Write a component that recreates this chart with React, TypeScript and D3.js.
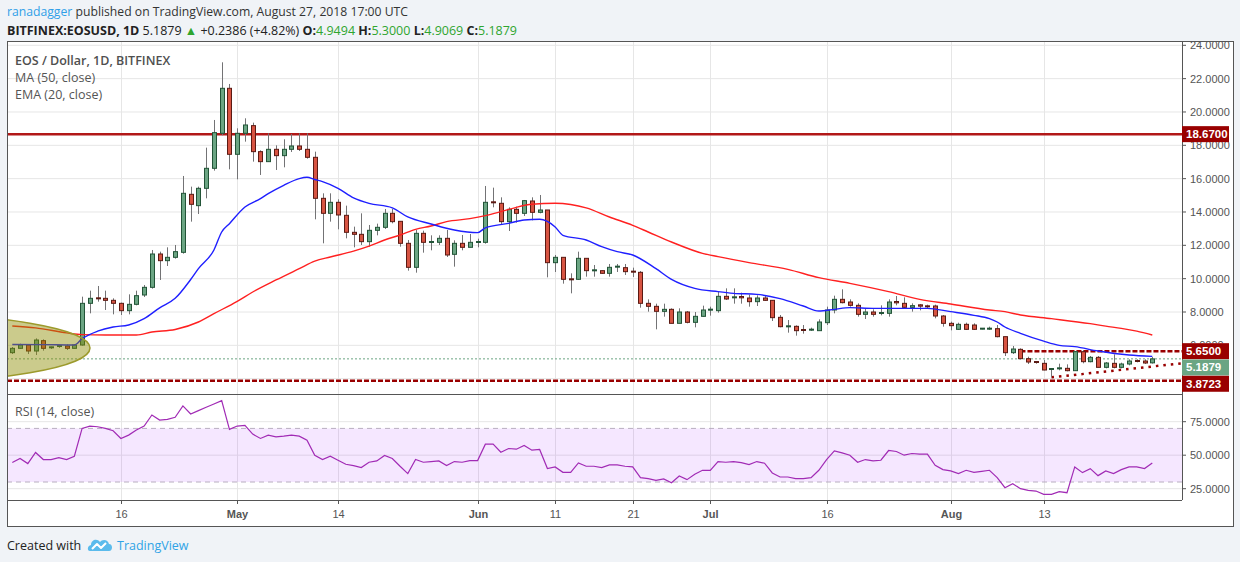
import React from "react";
import * as d3 from "d3";

// ---------------- data ----------------
const START_DATE = "2018-04-02";

const opens = [
  5.56, 5.82, 6.02, 5.66, 6.28, 5.82, 5.9, 5.96, 5.82, 6.02,
  8.52, 8.82, 8.82, 8.7, 8.52, 8.08, 8.46, 9.02, 9.48, 11.48,
  11.08, 11.28, 11.58, 15.06, 14.38, 15.42, 16.62, 18.72, 21.42, 17.46,
  18.72, 19.18, 17.62, 17.02, 17.76, 17.38, 17.76, 17.96, 17.76, 17.28,
  14.82, 13.92, 14.58, 13.8, 12.78, 12.66, 12.22, 12.9, 13.08, 13.92,
  13.44, 12.12, 10.68, 12.72, 12.18, 12.18, 12.42, 11.46, 12.12, 11.88,
  12.18, 12.18, 14.58, 14.52, 13.42, 14.16, 13.92, 14.66, 13.98, 14.12,
  10.96, 11.28, 9.96, 9.96, 11.22, 10.48, 10.48, 10.32, 10.7, 10.66,
  10.42, 10.38, 8.52, 8.34, 8.04, 8.16, 7.32, 8.0, 7.38, 7.74,
  8.12, 8.08, 8.94, 8.84, 8.9, 8.84, 8.62, 8.84, 8.7, 7.68,
  7.12, 7.14, 6.92, 6.9, 6.88, 7.36, 8.12, 8.76, 8.6, 8.4,
  7.86, 8.0, 7.9, 7.92, 8.6, 8.52, 8.28, 8.4, 8.34, 8.36,
  7.76, 7.32, 6.96, 7.26, 7.22, 6.98, 6.98, 7.0, 6.52, 5.56,
  5.76, 5.2, 5.0, 4.92, 4.54, 4.58, 4.62, 4.48, 5.62, 5.02,
  5.28, 4.68, 4.92, 4.68, 4.88, 5.06, 5.06, 4.9494,
];

const highs = [
  5.9, 6.1, 6.08, 6.42, 6.36, 5.92, 6.0, 6.06, 6.06, 8.92,
  9.28, 9.56, 9.28, 8.82, 8.56, 9.06, 9.28, 9.62, 11.72, 11.62,
  11.88, 12.02, 16.16, 15.52, 15.52, 17.86, 19.52, 22.98, 21.68, 19.02,
  19.62, 19.36, 17.7, 18.72, 18.0, 18.36, 18.68, 18.72, 18.72, 17.62,
  15.12, 15.12, 14.76, 14.38, 13.12, 13.92, 13.22, 13.3, 14.18, 14.18,
  13.44, 12.32, 12.92, 12.88, 12.6, 12.6, 12.92, 12.3, 12.62, 12.68,
  12.4, 15.56, 15.46, 14.88, 14.28, 14.32, 14.72, 14.88, 15.02, 14.12,
  11.42, 11.28, 10.32, 11.62, 11.22, 10.82, 10.5, 10.88, 10.88, 10.88,
  10.66, 10.46, 8.76, 8.5, 8.5, 8.22, 8.22, 8.06, 8.0, 8.38,
  8.32, 9.22, 9.42, 9.42, 9.16, 9.04, 9.0, 9.0, 8.7, 7.82,
  7.52, 7.2, 7.22, 7.06, 7.56, 8.32, 8.98, 9.36, 8.76, 8.52,
  8.22, 8.16, 8.4, 8.76, 8.96, 8.88, 8.52, 8.48, 8.44, 8.44,
  7.82, 7.42, 7.36, 7.36, 7.32, 7.04, 7.12, 7.22, 6.52, 5.96,
  5.82, 5.32, 5.06, 5.12, 4.62, 4.9, 4.86, 5.66, 5.72, 5.36,
  5.36, 5.0, 5.46, 4.96, 5.16, 5.16, 5.16, 5.3,
];

const lows = [
  5.48, 5.78, 5.48, 5.42, 5.68, 5.78, 5.85, 5.72, 5.8, 5.98,
  7.92, 8.62, 8.12, 7.86, 7.82, 7.86, 8.4, 8.9, 9.4, 9.92,
  10.76, 11.2, 11.5, 13.42, 13.88, 14.82, 16.48, 18.6, 16.56, 15.96,
  18.22, 17.02, 16.22, 17.0, 16.52, 16.68, 17.6, 17.66, 17.2, 13.56,
  12.12, 13.42, 12.96, 12.42, 11.88, 12.02, 11.92, 12.6, 12.98, 13.32,
  11.92, 10.48, 10.36, 11.56, 11.7, 12.02, 11.3, 10.72, 11.7, 11.88,
  11.88, 12.1, 14.28, 13.26, 12.86, 13.36, 13.76, 13.5, 13.92, 10.08,
  10.4, 9.7, 9.12, 9.92, 10.12, 10.12, 10.3, 10.12, 10.4, 10.22,
  10.1, 8.26, 8.02, 6.96, 7.72, 7.32, 7.32, 7.32, 7.08, 7.72,
  7.78, 7.96, 8.72, 8.5, 8.5, 8.32, 8.36, 8.66, 7.46, 7.08,
  6.76, 6.58, 6.7, 6.86, 6.88, 7.22, 7.92, 8.52, 8.32, 7.72,
  7.58, 7.72, 7.8, 7.72, 8.4, 8.24, 8.02, 8.1, 8.22, 7.62,
  7.12, 6.9, 6.92, 6.92, 6.92, 6.96, 6.92, 6.48, 5.36, 5.48,
  5.16, 4.88, 4.9, 4.5, 4.08, 4.5, 4.44, 4.48, 4.92, 4.98,
  4.68, 4.62, 4.62, 4.62, 4.8, 4.98, 4.88, 4.9069,
];

const closes = [
  5.82, 6.02, 5.66, 6.32, 5.82, 5.88, 5.96, 5.82, 6.02, 8.52,
  8.82, 8.8, 8.7, 8.52, 8.08, 8.46, 8.98, 9.48, 11.48, 11.08,
  11.28, 11.62, 15.12, 14.46, 15.42, 16.62, 18.76, 21.42, 17.46, 18.72,
  19.22, 17.62, 17.02, 17.76, 17.38, 17.76, 17.96, 17.76, 17.28, 14.82,
  13.92, 14.58, 13.82, 12.78, 12.66, 12.22, 12.9, 13.08, 13.92, 13.42,
  12.12, 10.68, 12.72, 12.18, 12.2, 12.42, 11.42, 12.12, 11.88, 12.18,
  12.2, 14.58, 14.56, 13.42, 14.16, 13.92, 14.68, 13.98, 14.12, 10.96,
  11.28, 9.96, 9.94, 11.22, 10.48, 10.5, 10.32, 10.68, 10.72, 10.42,
  10.4, 8.52, 8.34, 8.04, 8.16, 7.32, 8.0, 7.38, 7.74, 8.12,
  8.14, 8.94, 8.78, 8.88, 8.82, 8.62, 8.84, 8.7, 7.66, 7.12,
  7.14, 6.88, 6.9, 6.94, 7.4, 8.12, 8.76, 8.56, 8.4, 7.86,
  8.0, 7.86, 7.94, 8.6, 8.52, 8.28, 8.38, 8.32, 8.33, 7.76,
  7.32, 7.18, 7.26, 6.96, 6.96, 7.0, 7.0, 6.52, 5.56, 5.78,
  5.2, 5.0, 4.94, 4.52, 4.58, 4.62, 4.48, 5.62, 5.02, 5.28,
  4.68, 4.94, 4.68, 4.88, 5.06, 5.02, 4.94, 5.1879,
];

const rsiValues = [
  44.5, 47.5, 43.75, 52, 46.75, 46.75, 48.25, 46.75, 49.25, 70,
  71.75, 71.25, 70, 68.25, 62.5, 65, 68.75, 71.75, 80, 76.25,
  76.75, 78.25, 86.75, 80.75, 83.25, 85.75, 88.25, 90.75, 69.25, 71.75,
  72.25, 65.75, 62.5, 65, 63.75, 64.25, 65, 64.25, 61.25, 50,
  46.75, 49.25, 46.25, 43.25, 42.25, 40.75, 44.75, 45.75, 49.75, 47.5,
  41.75, 36.25, 46.75, 44.75, 45.25, 45.75, 42.25, 45.25, 44.75, 46,
  46, 58.25, 58.25, 52.25, 55, 54.5, 57.25, 53.75, 54.25, 40,
  41.25, 37.25, 37.25, 44.25, 41.75, 41.75, 40.75, 42.75, 42.75, 41.75,
  41.25, 33.25, 32.5, 31.25, 32.25, 29.5, 34.5, 31.75, 35.75, 38.75,
  38.75, 45.25, 44.75, 45.25, 44.5, 43, 45.25, 44, 36.75, 33.75,
  33.75, 32.5, 32.5, 33.25, 38.75, 46.75, 53.25, 51.75, 50, 44.75,
  46.75, 45.75, 46.25, 53.5, 52.75, 50, 51.25, 50.75, 50.75, 42.5,
  39.25, 38.25, 36.25, 38.75, 37.25, 38, 38.75, 33.25, 25.75, 28.75,
  25, 23.75, 23.25, 20.75, 20.75, 22.75, 22, 41.25, 37, 40,
  34.75, 38.25, 36.25, 39.25, 41.25, 41.25, 40, 44.25,
];

// [bar index, value] read along the blue EMA (20) line
const ema20Points: [number, number][] = [
  [0, 6.05], [4, 6.04], [8, 6.02], [9, 6.4], [11, 6.85], [13, 7.1], [15, 7.22],
  [17, 7.6], [19, 8.25], [21, 8.82], [23, 9.95], [24, 10.6], [26, 11.72],
  [27, 12.8], [28, 13.3], [30, 14.3], [32, 14.8], [33, 15.1], [35, 15.6],
  [37, 16.0], [38, 16.08], [39, 15.95], [40, 15.82], [42, 15.42], [44, 14.85],
  [46, 14.52], [49, 14.25], [51, 13.7], [54, 13.28], [57, 12.92], [60, 12.76],
  [61, 13.05], [64, 13.32], [66, 13.52], [68, 13.56], [70, 13.1], [71, 12.6],
  [74, 12.32], [76, 11.92], [78, 11.62], [80, 11.42], [83, 10.6], [85, 9.96],
  [88, 9.42], [91, 9.22], [93, 9.12], [96, 9.06], [99, 8.8], [102, 8.36],
  [104, 8.06], [106, 8.16], [108, 8.26], [111, 8.22], [115, 8.22], [118, 8.22],
  [121, 8.02], [124, 7.8], [126, 7.6], [127, 7.4], [128, 7.1], [130, 6.72],
  [133, 6.25], [135, 6.0], [137, 5.92], [140, 5.66], [144, 5.42], [147, 5.34],
];

// [bar index, value] read along the red MA (50) line
const ma50Points: [number, number][] = [
  [0, 7.16], [3, 7.05], [7, 6.75], [9, 6.64], [12, 6.62], [16, 6.62], [18, 6.8],
  [21, 6.95], [24, 7.4], [26, 7.9], [29, 8.64], [31, 9.2], [34, 9.92], [37, 10.6],
  [39, 11.05], [41, 11.3], [44, 11.65], [46, 11.95], [48, 12.32], [50, 12.62],
  [52, 12.96], [54, 13.16], [56, 13.42], [59, 13.6], [61, 13.78], [63, 14.02],
  [65, 14.28], [67, 14.46], [70, 14.52], [72, 14.45], [74, 14.25], [77, 13.7],
  [80, 13.2], [82, 12.8], [85, 12.2], [89, 11.52], [91, 11.32], [95, 10.96],
  [100, 10.56], [104, 10.06], [108, 9.72], [113, 9.22], [117, 8.76], [121, 8.48],
  [126, 8.12], [128, 8.02], [130, 7.82], [134, 7.6], [139, 7.3], [141, 7.15],
  [143, 7.02], [145, 6.85], [147, 6.62],
];

const priceGridTicks = [4, 6, 8, 10, 12, 14, 16, 18, 20, 22, 24];
const priceLabelTicks = [6, 8, 10, 12, 14, 16, 18, 20, 22, 24];
const rsiTicks = [25, 50, 75];
const timeTickDates = ["2018-04-16", "2018-05-01", "2018-05-14", "2018-06-01", "2018-06-11", "2018-06-21", "2018-07-01", "2018-07-16", "2018-08-01", "2018-08-13"];
const timeTickLabels = ["16", "May", "14", "Jun", "11", "21", "Jul", "16", "Aug", "13"];

const resistanceLevel = 18.67;
const rangeTopLevel = 5.65;
const supportLevel = 3.8723;
const lastPrice = 5.1879;
const trendStart: [string, number] = ["2018-08-14", 4.08];
const trendEnd: [string, number] = ["2018-09-01", 4.98];

// ---------------- layout ----------------
const W = 1240;
const H = 562;
const FL = 7;
const FR = 1234;
const FT = 41;
const FB = 527;
const PR = 1182;
const PB = 394;
const RB = 500;

const FONT = "'Open Sans', 'Noto Sans', sans-serif";
const AXF = "'Liberation Sans', Arial, sans-serif";

const UP = "#6ba583";
const DOWN = "#d75442";
const UP_B = "#225437";
const DOWN_B = "#5b1a13";
const DARKRED = "#990000";
const VALGREEN = "#2fa52f";

export default function App() {
  const start = new Date(START_DATE + "T00:00:00Z");
  const dates = opens.map((_, i) => d3.utcDay.offset(start, i));
  const x = d3.scaleUtc().domain([dates[0], dates[dates.length - 1]]).range([12.3, 1152.3]);
  const y = d3.scaleLinear().domain([8, 24]).range([312, 45.3]);
  const yR = d3.scaleLinear().domain([25, 75]).range([488.7, 421.7]);
  const d = (s: string) => new Date(s + "T00:00:00Z");

  const idxLine = d3
    .line<[number, number]>()
    .x((p) => x(dates[p[0]]))
    .y((p) => y(p[1]))
    .curve(d3.curveMonotoneX);

  const rsiLine = d3
    .line<number>()
    .x((_, i) => x(dates[i]))
    .y((v) => yR(v));

  const fmt = d3.format(".4f");
  const boxTop = y(rangeTopLevel) - 8;

  const labelBox = (cy: number, txt: string, fill: string, key: string) => (
    <g key={key}>
      <rect x={PR} y={cy - 8} width={47} height={16} fill={fill} />
      <text x={PR + 4} y={cy + 4} fontFamily={AXF} fontSize={11.5} fontWeight="bold" fill="#fff">
        {txt}
      </text>
    </g>
  );

  return (
    <div style={{ position: "absolute", left: 0, top: 0, width: W, height: H, overflow: "hidden" }}>
      <svg width={W} height={H} style={{ display: "block" }}>
        <defs>
          <clipPath id="pricePane">
            <rect x={FL} y={FT} width={PR - FL} height={PB - FT} />
          </clipPath>
          <clipPath id="rsiPane">
            <rect x={FL} y={PB} width={PR - FL} height={RB - PB} />
          </clipPath>
          <clipPath id="axisAboveBoxes">
            <rect x={PR} y={FT} width={FR - PR} height={boxTop - FT} />
          </clipPath>
        </defs>
        <rect x={0} y={0} width={W} height={H} fill="#f0f3f7" />

        {/* header */}
        <text x={7} y={16} fontFamily={FONT} fontSize={12.5} textLength={401} lengthAdjust="spacingAndGlyphs">
          <tspan fill="#2f9fe8">ranadagger</tspan>
          <tspan fill="#333"> published on TradingView.com, August 27, 2018 17:00 UTC</tspan>
        </text>
        <text x={7} y={35} fontFamily={FONT} fontSize={12.5} fill="#222" textLength={510} lengthAdjust="spacingAndGlyphs">
          <tspan fontWeight="bold">BITFINEX:EOSUSD, 1D</tspan>
          <tspan> 5.1879 </tspan>
          <tspan fill={VALGREEN}>▲</tspan>
          <tspan> +0.2386 (+4.82%) </tspan>
          <tspan fontWeight="bold">O:</tspan>
          <tspan fill={VALGREEN}>4.9494</tspan>
          <tspan fontWeight="bold"> H:</tspan>
          <tspan fill={VALGREEN}>5.3000</tspan>
          <tspan fontWeight="bold"> L:</tspan>
          <tspan fill={VALGREEN}>4.9069</tspan>
          <tspan fontWeight="bold"> C:</tspan>
          <tspan fill={VALGREEN}>5.1879</tspan>
        </text>

        {/* chart frame */}
        <rect x={FL} y={FT} width={FR - FL} height={FB - FT} fill="#fff" />

        {/* grid */}
        {priceGridTicks.map((t) => (
          <line key={"hg" + t} x1={FL} x2={PR} y1={y(t)} y2={y(t)} stroke="#e6e6e6" />
        ))}
        {rsiTicks.map((t) => (
          <line key={"rg" + t} x1={FL} x2={PR} y1={yR(t)} y2={yR(t)} stroke="#e6e6e6" />
        ))}
        {timeTickDates.map((s) => (
          <g key={"vg" + s}>
            <line x1={Math.round(x(d(s))) + 0.5} x2={Math.round(x(d(s))) + 0.5} y1={FT} y2={PB} stroke="#e6e6e6" />
            <line x1={Math.round(x(d(s))) + 0.5} x2={Math.round(x(d(s))) + 0.5} y1={PB} y2={RB} stroke="#e6e6e6" />
          </g>
        ))}

        {/* RSI band */}
        <rect x={FL} y={yR(70)} width={PR - FL} height={yR(30) - yR(70)} fill="rgba(153,21,255,0.1)" />
        <line x1={FL} x2={PR} y1={yR(70)} y2={yR(70)} stroke="#b8aec0" strokeDasharray="5 4" />
        <line x1={FL} x2={PR} y1={yR(30)} y2={yR(30)} stroke="#b8aec0" strokeDasharray="5 4" />
        <path d={rsiLine(rsiValues) || ""} fill="none" stroke="#a12bb5" strokeWidth={1.2} clipPath="url(#rsiPane)" />

        {/* price pane content */}
        <g clipPath="url(#pricePane)">
          <line x1={FL} x2={PR} y1={y(lastPrice)} y2={y(lastPrice)} stroke={UP} strokeDasharray="2 2" />
          <line x1={FL} x2={PR} y1={y(supportLevel)} y2={y(supportLevel)} stroke={DARKRED} strokeWidth={2.5} strokeDasharray="5 2" />
          <line
            x1={x(d("2018-08-10"))}
            x2={PR}
            y1={y(rangeTopLevel)}
            y2={y(rangeTopLevel)}
            stroke={DARKRED}
            strokeWidth={2.5}
            strokeDasharray="5 2"
          />
          <line
            x1={x(d(trendStart[0]))}
            x2={x(d(trendEnd[0]))}
            y1={y(trendStart[1])}
            y2={y(trendEnd[1])}
            stroke={DARKRED}
            strokeWidth={2.5}
            strokeDasharray="2.5 5"
          />
          <line x1={FL} x2={PR} y1={y(resistanceLevel)} y2={y(resistanceLevel)} stroke="#b21818" strokeWidth={2.5} />

          {opens.map((o, i) => {
            const c = closes[i];
            const up = c >= o;
            const cx = Math.round(x(dates[i])) + 0.5;
            const top = y(Math.max(o, c));
            const bot = y(Math.min(o, c));
            const h = Math.max(1, bot - top);
            return (
              <g key={"c" + i}>
                <line x1={cx} x2={cx} y1={y(highs[i])} y2={y(lows[i])} stroke="#737375" />
                <rect
                  x={cx - 2}
                  y={h < 1.5 ? top - 0.5 : top}
                  width={4}
                  height={h}
                  fill={up ? UP : DOWN}
                  stroke={up ? UP_B : DOWN_B}
                  strokeWidth={1}
                />
              </g>
            );
          })}

          <path d={idxLine(ma50Points) || ""} fill="none" stroke="#ff2020" strokeWidth={1.4} />
          <path d={idxLine(ema20Points) || ""} fill="none" stroke="#1f1fff" strokeWidth={1.4} />

          <ellipse cx={-115} cy={348} rx={205} ry={35} fill="rgba(140,140,0,0.45)" stroke="#9c9a2c" strokeWidth={1.5} />
        </g>

        {/* legends */}
        <text x={15} y={65} fontFamily={FONT} fontSize={12.5} fontWeight={600} fill="#4f4f4f">
          EOS / Dollar, 1D, BITFINEX
        </text>
        <text x={15} y={82} fontFamily={FONT} fontSize={12.5} fill="#555">
          MA (50, close)
        </text>
        <text x={15} y={99} fontFamily={FONT} fontSize={12.5} fill="#555">
          EMA (20, close)
        </text>
        <text x={15} y={416} fontFamily={FONT} fontSize={12.5} fill="#555">
          RSI (14, close)
        </text>

        {/* pane borders */}
        <line x1={FL} x2={PR} y1={PB + 0.5} y2={PB + 0.5} stroke="#555" />
        <line x1={FL} x2={PR} y1={RB + 0.5} y2={RB + 0.5} stroke="#555" />
        <line x1={PR + 0.5} x2={PR + 0.5} y1={FT} y2={RB} stroke="#555" />
        <rect x={FL + 0.5} y={FT + 0.5} width={FR - FL - 1} height={FB - FT - 1} fill="none" stroke="#555" />

        {/* price axis */}
        {priceLabelTicks.map((t) => (
          <g key={"pt" + t} clipPath={t === 6 ? "url(#axisAboveBoxes)" : undefined}>
            <line x1={PR} x2={PR + 4} y1={y(t)} y2={y(t)} stroke="#555" />
            <text x={1190} y={y(t) + 4} fontFamily={AXF} fontSize={11} fill="#555">
              {fmt(t)}
            </text>
          </g>
        ))}
        {rsiTicks.map((t) => (
          <g key={"rt" + t}>
            <line x1={PR} x2={PR + 4} y1={yR(t)} y2={yR(t)} stroke="#555" />
            <text x={1190} y={yR(t) + 4} fontFamily={AXF} fontSize={11} fill="#555">
              {fmt(t)}
            </text>
          </g>
        ))}
        {labelBox(y(resistanceLevel), fmt(resistanceLevel), DARKRED, "lb1")}
        {labelBox(y(rangeTopLevel), fmt(rangeTopLevel), DARKRED, "lb2")}
        {labelBox(y(rangeTopLevel) + 16.3, fmt(lastPrice), UP, "lb3")}
        {labelBox(y(rangeTopLevel) + 32.6, fmt(supportLevel), DARKRED, "lb4")}

        {/* time axis */}
        {timeTickDates.map((s, i) => {
          const tx = Math.round(x(d(s))) + 0.5;
          const isMonth = /[A-Za-z]/.test(timeTickLabels[i]);
          return (
            <g key={"tt" + s}>
              <line x1={tx} x2={tx} y1={RB} y2={RB + 4} stroke="#555" />
              <text
                x={tx}
                y={518}
                textAnchor="middle"
                fontFamily={AXF}
                fontSize={11}
                fontWeight={isMonth ? "bold" : "normal"}
                fill="#555"
              >
                {timeTickLabels[i]}
              </text>
            </g>
          );
        })}

        {/* footer */}
        <text x={7} y={550} fontFamily={FONT} fontSize={12.5} fill="#222">
          Created with
        </text>
        <g transform="translate(88,537)">
          <path
            d="M2,14 C-1,14 -1,9 3,8 C3,3 9,1 12,5 C14,2 20,2 21,7 C25,7 25,14 21,14 Z"
            fill="#5bbbec"
          />
          <path d="M4,12 L9,7 L13,11 L18,6" fill="none" stroke="#fff" strokeWidth={2} strokeLinejoin="round" />
        </g>
        <text x={117} y={550} fontFamily={FONT} fontSize={12.5} fill="#2fa3e6">
          TradingView
        </text>
      </svg>
    </div>
  );
}
